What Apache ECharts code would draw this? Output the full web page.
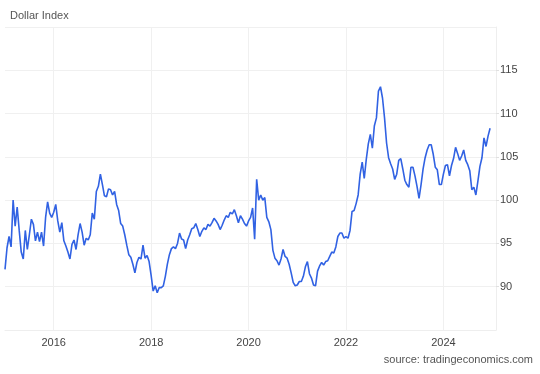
<!DOCTYPE html>
<html>
<head>
<meta charset="utf-8">
<script src="https://cdn.jsdelivr.net/npm/echarts@6/dist/echarts.min.js"></script>
<style>
html,body{margin:0;padding:0;background:#fff;}
#chart{width:540px;height:374px;}
</style>
</head>
<body>
<div id="chart"></div>
<script>
// Dollar Index, two readings per month
const v2015 = [92.0,94.5,95.8,94.6,100.0,97.0,99.2,96.5,94.0,93.2,96.5,94.3,96.0,97.8,97.2,95.3,96.3,95.2,96.3,94.7,98.0,99.8,98.5,98.0];
const v2016 = [98.6,99.5,97.6,96.3,97.4,95.3,94.7,94.0,93.2,94.9,95.4,94.3,96.0,97.3,96.3,94.8,95.6,95.4,96.0,98.5,97.8,101.0,101.6,103.0];
const v2017 = [101.8,100.5,100.4,101.3,101.2,100.6,101.0,99.5,98.8,97.3,97.0,96.0,94.8,93.7,93.4,92.6,91.6,92.8,93.4,93.2,94.8,93.3,93.6,92.9];
const v2018 = [91.3,89.5,90.1,89.3,89.9,89.9,90.1,91.2,92.6,93.7,94.4,94.6,94.4,95.0,96.2,95.5,95.4,94.4,95.4,96.0,96.7,96.8,97.3,96.6];
const v2019 = [95.8,96.4,96.8,96.6,97.2,97.0,97.4,97.9,97.6,97.2,96.6,97.1,97.7,98.2,98.0,98.6,98.4,98.9,98.2,97.4,98.2,97.8,97.3,97.0];
const v2020 = [97.6,98.0,99.1,95.5,102.4,100.0,100.6,100.0,100.3,98.0,97.5,96.6,94.2,93.3,93.0,92.5,93.2,94.3,93.5,93.3,92.6,91.6,90.5,90.1];
const v2021 = [90.2,90.6,90.6,91.2,92.3,92.9,91.5,91.0,90.2,90.1,91.8,92.4,92.8,92.5,92.9,93.0,93.5,94.0,93.9,94.6,95.8,96.2,96.2,95.6];
const v2022 = [95.8,95.6,96.5,98.7,98.8,99.6,100.6,103.0,104.4,102.5,104.7,106.5,107.6,106.0,108.6,109.5,112.6,113.1,111.8,109.5,106.6,104.9,104.2,103.6];
const v2023 = [102.4,103.0,104.6,104.8,103.6,102.3,101.8,101.5,103.8,103.8,102.8,101.6,100.2,101.8,103.6,104.9,105.8,106.4,106.4,105.3,103.8,103.5,101.8,101.8];
const v2024 = [103.0,104.0,104.1,102.8,104.0,104.8,106.1,105.4,104.6,105.1,105.8,104.6,104.1,103.4,101.2,101.5,100.6,102.2,103.9,104.9,107.2,106.2,107.4,108.3];

const years = [2015,2016,2017,2018,2019,2020,2021,2022,2023,2024];
const yearValues = [v2015,v2016,v2017,v2018,v2019,v2020,v2021,v2022,v2023,v2024];
const yTicks = [90,95,100,105,110,115];

const data = [];
years.forEach((y, k) => {
  yearValues[k].forEach((v, i) => data.push([y + i / 24, v]));
});

const chart = echarts.init(document.getElementById('chart'));
const font = 'Liberation Sans, Arial, sans-serif';
chart.setOption({
  animation: false,
  backgroundColor: '#fff',
  title: {
    text: 'Dollar Index',
    left: 5, top: 5,
    textStyle: {fontSize: 11, fontWeight: 'normal', color: '#555', fontFamily: font}
  },
  graphic: [{
    type: 'text', right: 7, bottom: 9,
    style: {text: 'source: tradingeconomics.com', fontSize: 11, fill: '#555', fontFamily: font}
  }],
  grid: {left: 5, right: 44, top: 27, bottom: 44},
  xAxis: {
    type: 'value', min: 2015, max: 2025.08, interval: 1,
    axisLine: {show: true, lineStyle: {color: '#eeeeee'}},
    axisTick: {show: false},
    axisLabel: {
      color: '#444', fontSize: 11, fontFamily: font, margin: 7,
      formatter: v => (Number.isInteger(v) && v % 2 === 0 && v >= 2016 && v <= 2024) ? String(v) : ''
    },
    splitLine: {show: true, lineStyle: {color: ['rgba(0,0,0,0)', '#f0f0f0'], width: 1}}
  },
  yAxis: {
    type: 'value', position: 'right', min: 85, max: 120, interval: 5,
    axisLine: {show: true, lineStyle: {color: '#eeeeee'}},
    axisTick: {show: true, length: 3, lineStyle: {color: '#e0e0e0'}},
    axisLabel: {
      color: '#444', fontSize: 11, fontFamily: font, margin: 4,
      showMinLabel: false, showMaxLabel: false,
      formatter: v => yTicks.includes(v) ? String(v) : ''
    },
    splitLine: {show: true, lineStyle: {color: '#f0f0f0'}}
  },
  series: [{
    type: 'line', data: data, showSymbol: false, symbol: 'none',
    lineStyle: {color: '#3162e3', width: 1.6},
    smooth: false
  }]
});
</script>
</body>
</html>
